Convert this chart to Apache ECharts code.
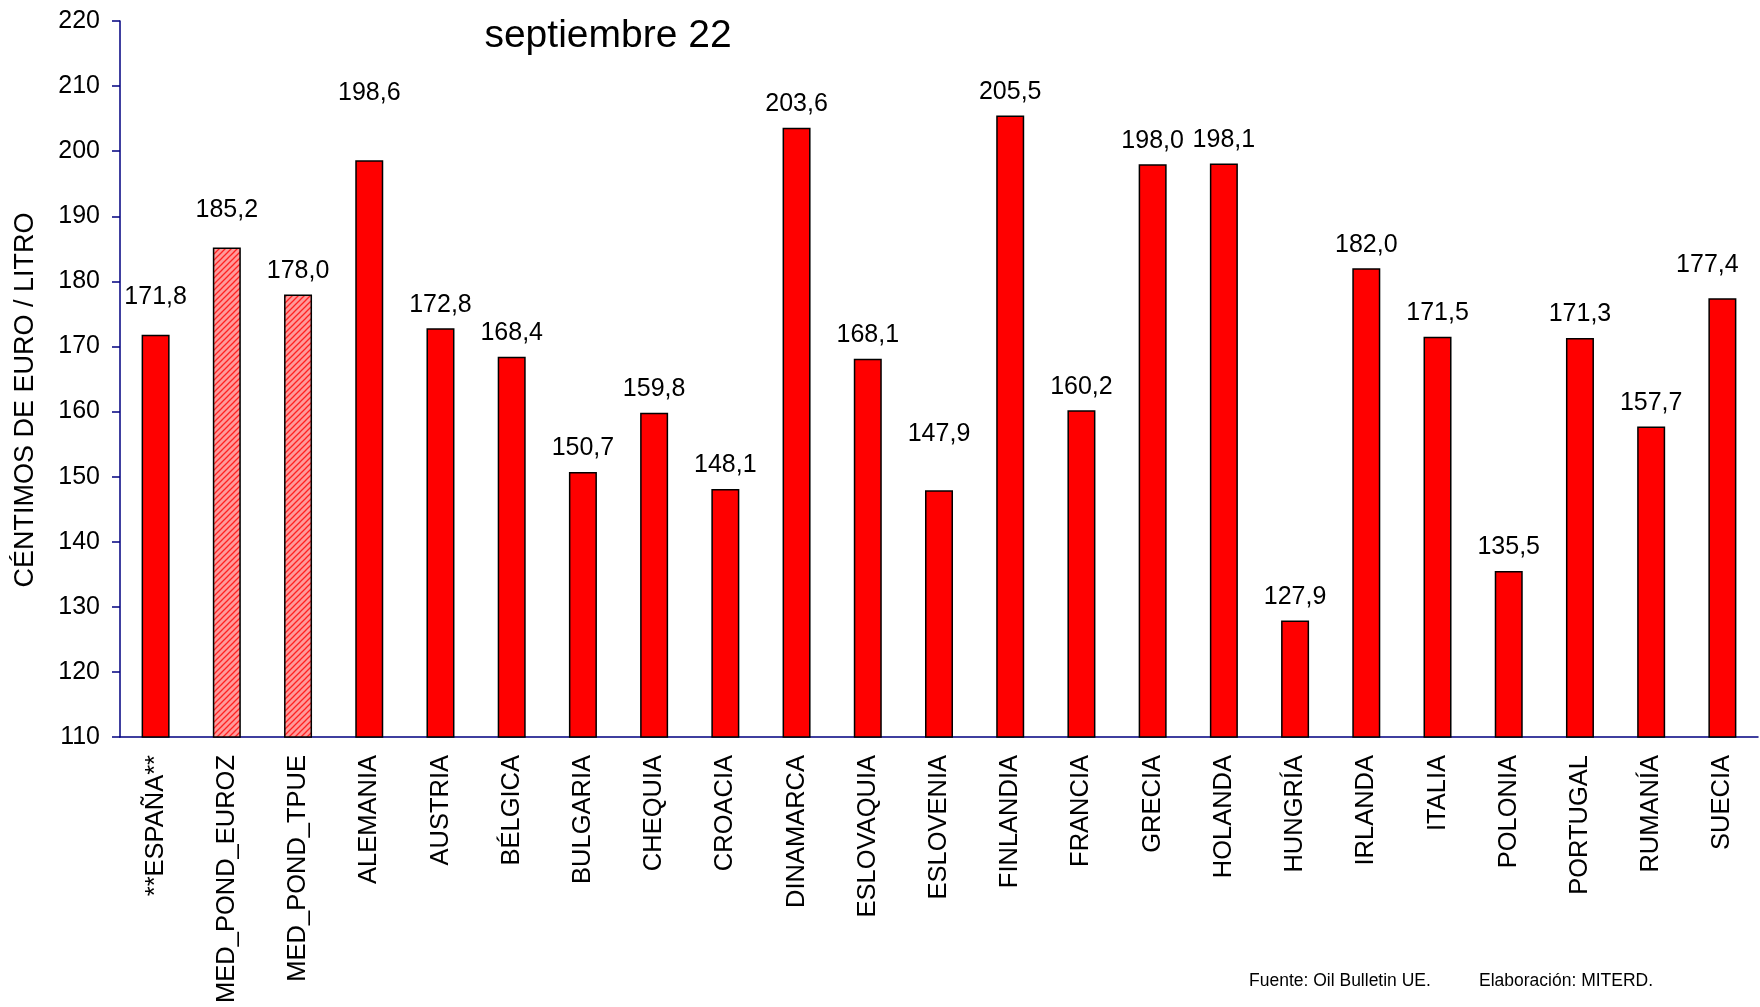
<!DOCTYPE html>
<html>
<head>
<meta charset="utf-8">
<title>septiembre 22</title>
<script src="https://cdn.jsdelivr.net/npm/echarts@6/dist/echarts.min.js"></script>
<style>
html, body { margin: 0; padding: 0; background: #fff; }
#chart { width: 1760px; height: 1007px; }
</style>
</head>
<body>
<div id="chart"></div>
<script>
// categorías (países y medias)
var paises = ['**ESPAÑA**', 'MED_POND_EUROZ', 'MED_POND_TPUE', 'ALEMANIA', 'AUSTRIA', 'BÉLGICA',
  'BULGARIA', 'CHEQUIA', 'CROACIA', 'DINAMARCA', 'ESLOVAQUIA', 'ESLOVENIA', 'FINLANDIA',
  'FRANCIA', 'GRECIA', 'HOLANDA', 'HUNGRÍA', 'IRLANDA', 'ITALIA', 'POLONIA', 'PORTUGAL',
  'RUMANÍA', 'SUECIA'];
// céntimos de euro / litro
var precios = [171.8, 185.2, 178.0, 198.6, 172.8, 168.4, 150.7, 159.8, 148.1, 203.6, 168.1,
  147.9, 205.5, 160.2, 198.0, 198.1, 127.9, 182.0, 171.5, 135.5, 171.3, 157.7, 177.4];
// medias ponderadas (barras rayadas)
var medias = ['MED_POND_EUROZ', 'MED_POND_TPUE'];
var yTicks = [110, 220, 10]; // min, max, intervalo

// desplazamiento extra de algunas etiquetas
var desplaza = {
  '**ESPAÑA**': [0, -14],
  'MED_POND_EUROZ': [0, -14],
  'ALEMANIA': [0, -44],
  'ESLOVENIA': [0, -33],
  'SUECIA': [-15, -10]
};

var fuente = 'Liberation Sans, Arial, sans-serif';

// patrón rayado
function rayado() {
  var c = document.createElement('canvas');
  c.width = 6; c.height = 6;
  var g = c.getContext('2d');
  g.fillStyle = '#ff9a9a';
  g.fillRect(0, 0, 6, 6);
  g.strokeStyle = '#ff2020';
  g.lineWidth = 1.3;
  g.beginPath();
  g.moveTo(-1, 7); g.lineTo(7, -1);
  g.moveTo(-4, 4); g.lineTo(4, -4);
  g.moveTo(2, 10); g.lineTo(10, 2);
  g.stroke();
  return c;
}
var patron = rayado();

var datos = precios.map(function (v, i) {
  var item = { value: v };
  if (medias.indexOf(paises[i]) >= 0) {
    item.itemStyle = { color: { image: patron, repeat: 'repeat' } };
  }
  if (desplaza[paises[i]]) {
    item.label = { offset: desplaza[paises[i]] };
  }
  return item;
});

var chart = echarts.init(document.getElementById('chart'));
var option = {
  animation: false,
  backgroundColor: '#fff',
  textStyle: { fontFamily: fuente },
  grid: { left: 120, right: 2, top: 21, bottom: 270 },
  xAxis: {
    type: 'category',
    data: paises,
    axisLine: { lineStyle: { color: '#000080', width: 1.5 } },
    axisTick: { show: false },
    axisLabel: { rotate: 90, margin: 18, fontSize: 25.5, color: '#000', fontFamily: fuente, interval: 0 }
  },
  yAxis: {
    type: 'value',
    min: yTicks[0],
    max: yTicks[1],
    interval: yTicks[2],
    splitLine: { show: false },
    axisLine: { show: true, lineStyle: { color: '#000080', width: 1.5 } },
    axisTick: { show: true, length: 8, lineStyle: { color: '#000080', width: 1.5 } },
    axisLabel: { margin: 20, fontSize: 25, color: '#000', fontFamily: fuente }
  },
  series: [{
    type: 'bar',
    data: datos,
    barWidth: 28,
    itemStyle: { color: '#ff0000', borderColor: '#000', borderWidth: 1.5 },
    label: {
      show: true,
      position: 'top',
      distance: 11,
      fontSize: 25,
      lineHeight: 25,
      color: '#000',
      fontFamily: fuente,
      formatter: function (p) { return p.value.toFixed(1).replace('.', ','); }
    }
  }],
  graphic: [
    {
      type: 'text', x: 608, y: 36,
      style: { text: 'septiembre 22', fontSize: 39, fontFamily: fuente, fill: '#000', textAlign: 'center', textVerticalAlign: 'middle' }
    },
    {
      type: 'text', x: 26, y: 400, rotation: Math.PI / 2,
      style: { text: 'CÉNTIMOS DE EURO / LITRO', fontSize: 27, fontFamily: fuente, fill: '#000', textAlign: 'center', textVerticalAlign: 'middle' }
    },
    {
      type: 'text', x: 1249, y: 981,
      style: { text: 'Fuente: Oil Bulletin UE.', fontSize: 17.5, fontFamily: fuente, fill: '#000', textAlign: 'left', textVerticalAlign: 'middle' }
    },
    {
      type: 'text', x: 1479, y: 981,
      style: { text: 'Elaboración: MITERD.', fontSize: 17.5, fontFamily: fuente, fill: '#000', textAlign: 'left', textVerticalAlign: 'middle' }
    }
  ]
};
chart.setOption(option);
</script>
</body>
</html>
